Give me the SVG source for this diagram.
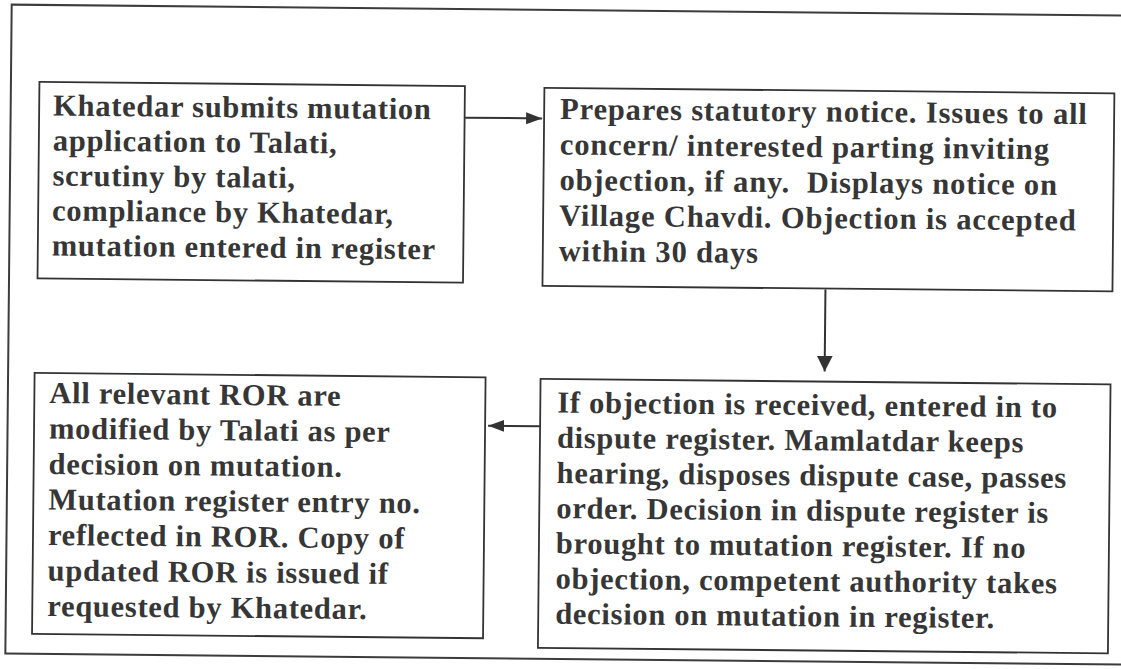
<svg xmlns="http://www.w3.org/2000/svg" width="1121" height="669" viewBox="0 0 1121 669">
<style>
.frame{fill:none;stroke:#3c3c3c;stroke-width:2}
.box{fill:#fff;stroke:#333;stroke-width:1.8}
.t{font-family:"Liberation Serif","Times New Roman",serif;font-weight:bold;font-size:30.5px;letter-spacing:0.72px;fill:#363636}
.w{letter-spacing:0.85px}
.pre{white-space:pre}
.c{stroke:#333;stroke-width:2;fill:none}
</style>
<defs>
<marker id="ah" markerUnits="userSpaceOnUse" markerWidth="17" markerHeight="14" refX="16" refY="7" orient="auto">
<path d="M0,1 L16,7 L0,13 Z" fill="#333"/>
</marker>
<marker id="ahd" markerUnits="userSpaceOnUse" markerWidth="17" markerHeight="18" refX="16" refY="9" orient="auto">
<path d="M0,1 L16,9 L0,17 Z" fill="#333"/>
</marker>
</defs>
<rect width="1121" height="669" fill="#fff"/>
<g transform="rotate(0.56 560 334)">
<rect class="frame" x="8.5" y="10" width="1125" height="649"/>
<g id="connectors">
<line class="c" x1="463" y1="118.6" x2="540" y2="118.6" marker-end="url(#ah)"/>
<line class="c" x1="825" y1="287" x2="825" y2="369" marker-end="url(#ahd)"/>
<line class="c" x1="541" y1="426.4" x2="489" y2="426.4" marker-end="url(#ah)"/>
</g>
<g id="node1">
<rect class="box" x="37" y="87" width="425.5" height="196.5"/>
<text class="t" x="51" y="120.5">Khatedar submits mutation</text>
<text class="t" x="51" y="155.5">application to Talati,</text>
<text class="t" x="51" y="190.5">scrutiny by talati,</text>
<text class="t" x="51" y="225.5">compliance by Khatedar,</text>
<text class="t" x="51" y="260.5">mutation entered in register</text>
</g>
<g id="node2">
<rect class="box" x="542" y="88" width="570" height="198"/>
<text class="t w" x="558" y="119">Prepares statutory notice. Issues to all</text>
<text class="t w" x="558" y="154.5">concern/ interested parting inviting</text>
<text class="t w pre" x="558" y="190">objection, if any.  Displays notice on</text>
<text class="t w" x="558" y="225.5">Village Chavdi. Objection is accepted</text>
<text class="t w" x="558" y="261">within 30 days</text>
</g>
<g id="node3">
<rect class="box" x="35" y="378" width="451" height="261"/>
<text class="t" x="50" y="408">All relevant ROR are</text>
<text class="t" x="50" y="443.5">modified by Talati as per</text>
<text class="t" x="50" y="479">decision on mutation.</text>
<text class="t" x="50" y="514.5">Mutation register entry no.</text>
<text class="t" x="50" y="550">reflected in ROR. Copy of</text>
<text class="t" x="50" y="585.5">updated ROR is issued if</text>
<text class="t" x="50" y="621">requested by Khatedar.</text>
</g>
<g id="node4">
<rect class="box" x="541" y="379" width="570" height="269"/>
<text class="t" x="558" y="412.6">If objection is received, entered in to</text>
<text class="t" x="558" y="447.8">dispute register. Mamlatdar keeps</text>
<text class="t" x="558" y="483">hearing, disposes dispute case, passes</text>
<text class="t" x="558" y="518.2">order. Decision in dispute register is</text>
<text class="t" x="558" y="553.4">brought to mutation register. If no</text>
<text class="t" x="558" y="588.6">objection, competent authority takes</text>
<text class="t" x="558" y="623.8">decision on mutation in register.</text>
</g>
</g>
</svg>
